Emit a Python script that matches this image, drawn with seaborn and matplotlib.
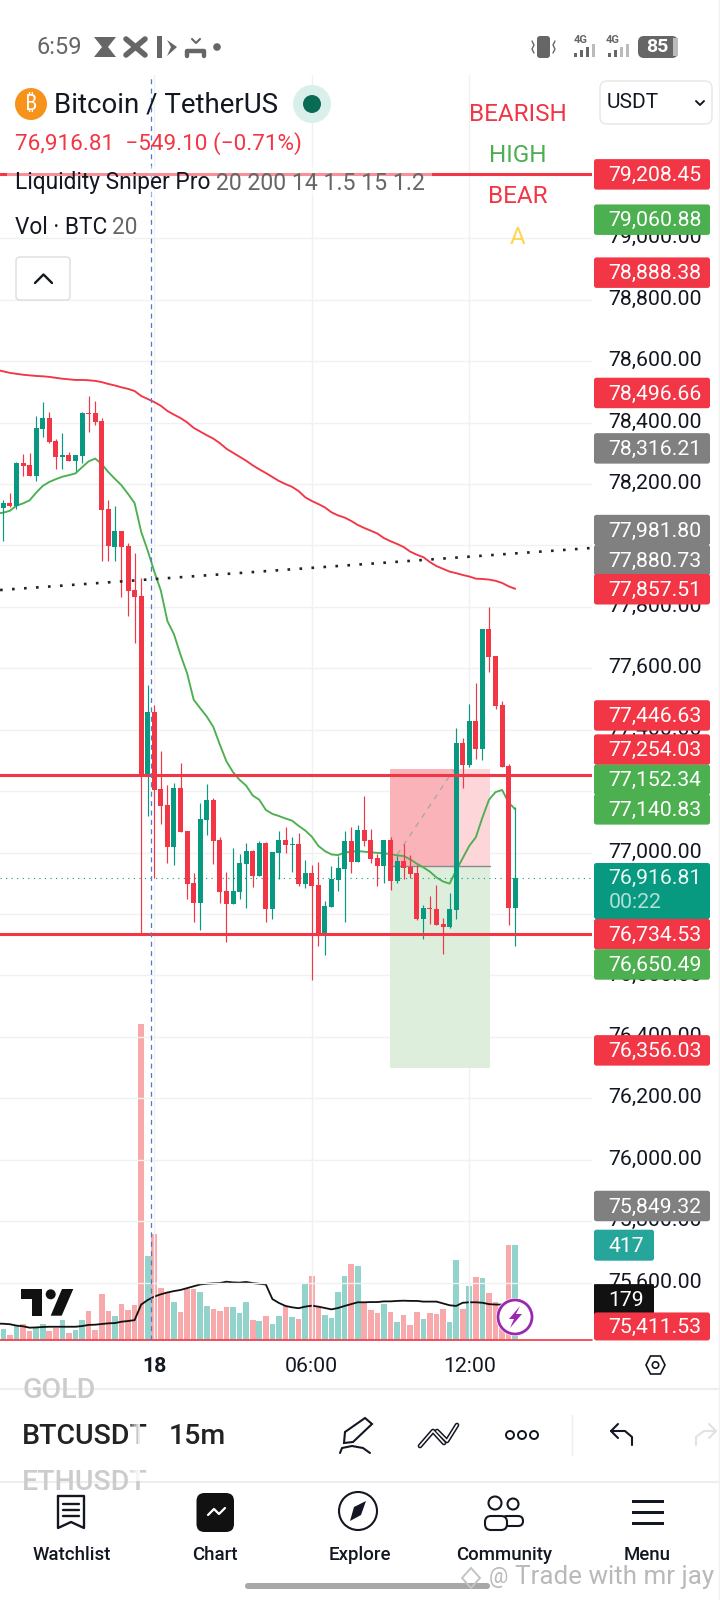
import numpy as np
import pandas as pd
import matplotlib
matplotlib.use("Agg")
import matplotlib.pyplot as plt
import seaborn as sns
from matplotlib.patches import FancyBboxPatch, Circle, Polygon, Rectangle
from matplotlib.transforms import ScaledTranslation

# ==========================
# DATA
# ==========================

opens = [78123, 78138, 78128, 78268, 78262, 78226, 78379, 78415, 78340, 78288,
         78295, 78275, 78291, 78431, 78431, 78405, 78119, 77995, 78047, 77998,
         77855, 77835, 77253, 77458, 77207, 77155, 77019, 77211, 77071, 76901,
         76836, 77107, 77172, 77041, 76875, 76833, 76872, 76963, 77006, 76924,
         77032, 76817, 76999, 77041, 77025, 77028, 76898, 76934, 76895, 76732,
         76824, 76912, 76947, 77038, 76970, 77074, 77041, 76983, 76957, 77041,
         76908, 76973, 76954, 76934, 76784, 76820, 76817, 76768, 76758, 76814,
         77357, 77286, 77429, 77338, 77728, 77641, 77481, 77282, 76820]
closes = [78138, 78128, 78268, 78259, 78226, 78382, 78415, 78337, 78288, 78295,
          78275, 78295, 78431, 78428, 78402, 78115, 77998, 78047, 77995, 77852,
          77832, 77253, 77458, 77204, 77152, 77019, 77211, 77067, 76898, 76836,
          77110, 77172, 77038, 76872, 76833, 76875, 76967, 77006, 76924, 77032,
          76817, 77002, 77041, 77025, 77028, 76898, 76934, 76892, 76732, 76827,
          76915, 76951, 77038, 76970, 77074, 77038, 76980, 76957, 77041, 76908,
          76973, 76950, 76931, 76784, 76820, 76817, 76765, 76758, 76817, 77357,
          77286, 77429, 77338, 77728, 77637, 77478, 77279, 76820, 76918]
highs = [78148, 78171, 78272, 78298, 78301, 78422, 78467, 78435, 78347, 78366,
         78304, 78295, 78435, 78487, 78470, 78415, 78148, 78128, 78047, 78008,
         77975, 77894, 77546, 77481, 77331, 77220, 77227, 77292, 77071, 76934,
         77162, 77224, 77178, 77051, 76937, 77015, 76996, 77032, 77009, 77038,
         77035, 77002, 77071, 77084, 77051, 77064, 76976, 76960, 76970, 76843,
         76957, 76990, 77071, 77084, 77090, 77185, 77077, 76996, 77041, 77051,
         76989, 77028, 76993, 76960, 76830, 76859, 76895, 76787, 76869, 77406,
         77374, 77484, 77553, 77728, 77800, 77641, 77494, 77289, 77149]
lows = [78015, 78125, 78119, 78226, 78226, 78210, 78353, 78334, 78249, 78249,
        78275, 78243, 78268, 78369, 78392, 77949, 77949, 77949, 77832, 77770,
        77684, 76737, 77120, 76918, 77094, 76967, 76960, 77067, 76849, 76774,
        76748, 77058, 76963, 76836, 76709, 76833, 76849, 76820, 76888, 76924,
        76774, 76784, 76915, 76999, 76937, 76892, 76885, 76586, 76696, 76667,
        76824, 76875, 76774, 76934, 76970, 77022, 76967, 76892, 76901, 76879,
        76901, 76915, 76918, 76781, 76719, 76768, 76765, 76670, 76755, 76784,
        77211, 77279, 77305, 77302, 77588, 77468, 77279, 76765, 76696]
# the three line series start one bar further left, off the edge of the pane
ema_slow = [78572, 78567, 78562, 78559, 78556, 78554, 78552, 78551, 78549, 78546,
            78543, 78541, 78539, 78539, 78538, 78536, 78532, 78526, 78521, 78515,
            78510, 78503, 78487, 78477, 78467, 78455, 78438, 78426, 78415, 78401,
            78383, 78371, 78359, 78348, 78333, 78315, 78302, 78289, 78276, 78261,
            78248, 78236, 78223, 78210, 78200, 78191, 78177, 78157, 78145, 78135,
            78124, 78108, 78098, 78091, 78080, 78067, 78057, 78048, 78039, 78024,
            78014, 78005, 77995, 77980, 77970, 77962, 77946, 77933, 77924, 77915,
            77910, 77904, 77899, 77892, 77891, 77889, 77885, 77878, 77867, 77859]
ema_fast = [78104, 78107, 78113, 78130, 78137, 78147, 78172, 78194, 78207, 78216,
            78224, 78229, 78235, 78255, 78274, 78283, 78265, 78239, 78217, 78196,
            78168, 78138, 78045, 77983, 77915, 77853, 77754, 77711, 77644, 77584,
            77498, 77470, 77443, 77409, 77351, 77297, 77262, 77237, 77218, 77186,
            77172, 77139, 77126, 77119, 77111, 77104, 77087, 77072, 77052, 77022,
            77005, 76994, 76992, 77000, 77003, 77005, 77003, 77001, 76999, 76998,
            76995, 76991, 76989, 76978, 76964, 76952, 76938, 76919, 76906, 76899,
            76942, 76982, 77022, 77050, 77114, 77172, 77197, 77204, 77163, 77141]
volume = [50, 23, 63, 70, 41, 54, 70, 41, 54, 89, 32, 45, 89, 128, 45, 203, 128,
          106, 159, 133, 155, 1382, 369, 465, 229, 207, 168, 124, 225, 225, 211,
          150, 137, 128, 146, 146, 120, 168, 89, 85, 106, 71, 106, 150, 102, 93,
          251, 281, 146, 111, 98, 211, 281, 334, 325, 163, 133, 120, 159, 124, 80,
          111, 67, 124, 93, 120, 115, 137, 80, 351, 137, 238, 277, 273, 207, 168,
          150, 417, 417]
volume_ma = [72, 71, 69, 63, 60, 54, 55, 57, 58, 58, 58, 58, 58, 61, 66, 67, 70, 73,
             74, 80, 83, 87, 155, 175, 190, 200, 208, 214, 219, 227, 235, 243, 246,
             248, 249, 255, 252, 251, 254, 249, 246, 243, 179, 162, 149, 143, 139,
             146, 150, 146, 140, 134, 140, 149, 157, 165, 165, 166, 166, 169, 169,
             171, 172, 171, 171, 168, 168, 168, 160, 152, 149, 163, 165, 165, 163,
             157, 155, 155]

bars = np.arange(-23, 56)
line_bars = np.arange(-24, 56)
price_ticks = np.arange(75600, 79001, 200)
time_ticks = [0, 24, 48]
time_labels = ["18", "06:00", "12:00"]

level_prices = [79208.45, 77254.03, 76734.53]
trend_x = [-23.5, 66.7]
trend_y = [77855, 77992]
last_price = 76916.81
session_x = -0.46

box_left = 35.9
box_split = 46
box_right = 51.1
box_top = 77273
box_mid = 76956
box_bottom = 76299
entry_x = [37, 45.6]
entry_y = [76993, 77269]

label_text = ["79,208.45", "79,060.88", "78,888.38", "78,496.66", "78,316.21",
              "77,981.80", "77,880.73", "77,857.51", "77,446.63", "77,254.03",
              "77,152.34", "77,140.83", "76,734.53", "76,650.49", "76,356.03",
              "75,849.32", "75,411.53"]
label_price = [79208.45, 79060.88, 78888.38, 78496.66, 78316.21,
               77981.80, 77880.73, 77857.51, 77446.63, 77254.03,
               77152.34, 77140.83, 76734.53, 76650.49, 76356.03,
               75849.32, 75411.53]
label_color = ["#F23645", "#4CAF50", "#F23645", "#F23645", "#808080",
               "#808080", "#808080", "#F23645", "#F23645", "#F23645",
               "#4CAF50", "#4CAF50", "#F23645", "#4CAF50", "#F23645",
               "#808080", "#F23645"]
# labels the app pushed away from their price so they do not overlap (pixels)
label_shift = {"77,981.80": -21, "77,880.73": -22, "77,254.03": -25,
               "77,152.34": -26, "76,650.49": 4.5, "75,411.53": -14}

tags = ["BEARISH", "HIGH", "BEAR", "A"]
tag_colors = ["#F23645", "#4CAF50", "#F23645", "#FFD54F"]
nav_names = ["Watchlist", "Chart", "Explore", "Community", "Menu"]

RED = "#F23645"
TEAL = "#089981"
TEXT = "#131722"
SCALE_FONT = 15.3

# ==========================
# FIGURE
# ==========================

sns.set_theme(style="white")
plt.rcParams["font.family"] = ["Roboto", "DejaVu Sans"]

fig = plt.figure(figsize=(7.2, 16), dpi=100, facecolor="white")

axv = fig.add_axes([0, 260 / 1600, 592 / 720, 1265 / 1600], zorder=1)
ax = fig.add_axes([0, 260 / 1600, 592 / 720, 1265 / 1600], zorder=2)
ax.patch.set_alpha(0)

# ==========================
# VOLUME
# ==========================

direction = ["up" if c >= o else "down" for o, c in zip(opens, closes)]
vol_df = pd.DataFrame({"bar": bars, "volume": volume, "side": direction})

sns.barplot(
    data=vol_df,
    x="bar",
    y="volume",
    hue="side",
    palette={"up": "#92D3CC", "down": "#F8A9AB"},
    native_scale=True,
    dodge=False,
    saturation=1,
    linewidth=0,
    legend=False,
    ax=axv
)
for patch in axv.patches:
    center = patch.get_x() + patch.get_width() / 2
    patch.set_width(0.85)
    patch.set_x(center - 0.425)

sns.lineplot(
    x=line_bars[:len(volume_ma)],
    y=volume_ma,
    color="#111111",
    linewidth=1.3,
    ax=axv
)
axv.set_xlim(-23.51, 66.7)
axv.set_ylim(0, 5535)
axv.axis("off")

# ==========================
# PRICE PANE
# ==========================

ax.set_xlim(-23.51, 66.7)
ax.set_ylim(75413, 79532)

ax.fill_between([box_left, box_split], box_mid, box_top, color="#FBB3BA", lw=0, zorder=1)
ax.fill_between([box_split, box_right], box_mid, box_top, color="#FCD6D9", lw=0, zorder=1)
ax.fill_between([box_left, box_right], box_bottom, box_mid, color="#DDEEDD", lw=0, zorder=1)
ax.plot([box_left, box_right], [box_mid, box_mid], color="#8A8A8A", lw=1, zorder=1.5)
ax.plot(entry_x, entry_y, color="#A8A8A8", lw=1, ls=(0, (4, 4)), zorder=1.5)

sns.lineplot(x=line_bars, y=ema_slow, color=RED, linewidth=1.35, ax=ax, zorder=2)
sns.lineplot(x=line_bars, y=ema_fast, color="#4CAF50", linewidth=1.35, ax=ax, zorder=2)

candle_colors = [TEAL if d == "up" else RED for d in direction]
ax.vlines(bars, lows, highs, colors=candle_colors, lw=0.85, zorder=3)
ax.bar(
    bars,
    np.abs(np.array(closes) - np.array(opens)),
    bottom=np.minimum(opens, closes),
    width=0.76,
    color=candle_colors,
    lw=0,
    zorder=3
)

for level in level_prices:
    ax.axhline(level, color=RED, lw=2.2, zorder=4)
ax.axhline(75411.53, color=RED, lw=1.2, zorder=4, clip_on=False)

ax.plot(trend_x, trend_y, color="#222222", lw=1.9, ls=(0, (1, 3.55)), zorder=4)
ax.axhline(last_price, color=TEAL, lw=0.8, ls=(0, (1, 4)), zorder=2.5)
ax.axvline(session_x, color="#4A7DD1", lw=0.9, ls=(0, (4, 3.5)), zorder=5)

ax.set_xticks(time_ticks)
ax.set_xticklabels([])
ax.set_yticks(price_ticks)
ax.set_yticklabels([f"{p:,.2f}" for p in price_ticks], fontsize=SCALE_FONT, color=TEXT, ha="left")
ax.yaxis.tick_right()
ax.tick_params(axis="both", length=0)
ax.tick_params(axis="y", pad=12)
tick_nudge = ScaledTranslation(0, 2.5 / 100, fig.dpi_scale_trans)
for tick_label in ax.get_yticklabels():
    tick_label.set_transform(tick_label.get_transform() + tick_nudge)
ax.grid(True, color="#F1F1F1", lw=1)
ax.set_axisbelow(True)
ax.set_xlabel("")
ax.set_ylabel("")
for side in ax.spines.values():
    side.set_visible(False)

# ==========================
# APP OVERLAY
# ==========================

ui = fig.add_axes([0, 0, 1, 1], zorder=5)
ui.set_xlim(0, 720)
ui.set_ylim(1600, 0)
ui.axis("off")
ui.patch.set_alpha(0)


def price_to_px(price):
    return 1600 - ax.transData.transform((0, price))[1]


def round_box(x, y, w, h, r=3, fc="white", ec="none", lw=1, z=2):
    ui.add_patch(FancyBboxPatch(
        (x + r, y + r), w - 2 * r, h - 2 * r,
        boxstyle=f"round,pad={r},rounding_size={r}",
        fc=fc, ec=ec, lw=lw, zorder=z
    ))


def stroke(xs, ys, color="#131722", lw=1.6, z=4):
    ui.plot(xs, ys, color=color, lw=lw, zorder=z, solid_capstyle="round", solid_joinstyle="round")


def fill(points, color, z=4):
    ui.add_patch(Polygon(points, closed=True, fc=color, ec="none", zorder=z))


# status bar
ui.text(37, 47, "6:59", fontsize=17, color="#666666", va="center")
fill([(94, 37), (116, 37), (108, 47), (116, 57), (94, 57), (102, 47)], "#666666")
stroke([126, 145], [39, 55], "#666666", 4)
stroke([126, 145], [55, 39], "#666666", 4)
fill([(157, 36), (162, 36), (162, 58), (157, 58)], "#666666")
fill([(167, 40), (177, 47), (167, 56), (171, 47)], "#666666")
stroke([187, 187, 204, 204], [56, 51, 51, 56], "#666666", 3.2)
stroke([192, 196, 200], [39, 43, 39], "#666666", 1.5)
ui.add_patch(Circle((217, 47), 3.8, fc="#666666", ec="none"))
round_box(537, 36, 13, 22, r=3, fc="#666666")
stroke([532, 534, 532, 534], [41, 45, 49, 53], "#666666", 1)
stroke([555, 553, 555, 553], [41, 45, 49, 53], "#666666", 1)
ui.text(581, 40, "4G", fontsize=8, color="#666666", ha="center", va="center", weight="bold")
ui.text(613, 40, "4G", fontsize=8, color="#666666", ha="center", va="center", weight="bold")
for bar_x, bar_h, shade in zip([574, 580, 586, 592], [4, 7, 10, 13], ["#666666"] * 3 + ["#BBBBBB"]):
    ui.add_patch(Rectangle((bar_x, 57 - bar_h), 3, bar_h, fc=shade, ec="none"))
for bar_x, bar_h, shade in zip([608, 614, 620, 626], [4, 7, 10, 13], ["#666666"] * 2 + ["#BBBBBB"] * 2):
    ui.add_patch(Rectangle((bar_x, 57 - bar_h), 3, bar_h, fc=shade, ec="none"))
round_box(638, 36, 40, 22, r=6, fc="#666666")
ui.add_patch(Rectangle((673, 38), 5, 18, fc="#BBBBBB", ec="none", zorder=3))
ui.text(657, 47.5, "85", fontsize=14, color="white", ha="center", va="center", weight="bold", zorder=4)

# symbol header
ui.add_patch(Circle((31, 104), 16, fc="#F7931A", ec="none"))
ui.text(31, 104, "₿", fontsize=15, color="white", ha="center", va="center", weight="bold",
        family=["Noto Sans", "Open Sans", "Inter", "Lato", "DejaVu Sans"])
ui.text(54, 105, "Bitcoin / TetherUS", fontsize=19.9, color=TEXT, va="center")
ui.add_patch(Circle((312, 104), 19, fc="#D9EFEA", ec="none"))
ui.add_patch(Circle((312, 104), 9, fc="#0A6B55", ec="none"))
ui.text(15, 144, "76,916.81  −549.10 (−0.71%)", fontsize=16.2, color=RED, va="center")

# legend area sits on a translucent white backing
ui.add_patch(Rectangle((7, 166), 425, 30, fc="white", ec="none", alpha=0.45, zorder=1))
ui.text(15, 183, "Liquidity Sniper Pro", fontsize=16.4, color=TEXT, va="center")
ui.text(216, 183, "20 200 14 1.5 15 1.2", fontsize=16.6, color="#666666", va="center")
ui.text(15, 228, "Vol · BTC", fontsize=16.3, color=TEXT, va="center")
ui.text(112, 228, "20", fontsize=16.3, color="#666666", va="center")
round_box(16, 257, 54, 43, r=4, fc="white", ec="#DDDDDD", lw=1)
stroke([35, 43.5, 52], [283, 274.5, 283], TEXT, 1.7)

for tag, tag_color, tag_y in zip(tags, tag_colors, [114.5, 155, 196.5, 238]):
    ui.text(518, tag_y, tag, fontsize=17.5, color=tag_color, ha="center", va="center")

round_box(600, 81, 112, 43, r=7, fc="white", ec="#E6E6E6", lw=1)
ui.text(607, 103, "USDT", fontsize=15, color=TEXT, va="center")
stroke([696, 700, 704], [101, 105, 101], TEXT, 1.4)

# price scale labels
for text, price, color in zip(label_text, label_price, label_color):
    center = price_to_px(price) + label_shift.get(text, 0)
    height = 28 if text == "75,411.53" else 30.5
    round_box(594, center - height / 2, 116, height, r=2.5, fc=color, z=3)
    ui.text(608.5, center + 1, text, fontsize=SCALE_FONT, color="white", va="center", zorder=4)

round_box(594, 863, 116, 56, r=2.5, fc=TEAL, z=2.5)
ui.text(608.5, 878, "76,916.81", fontsize=SCALE_FONT, color="#EAF7F4", va="center", zorder=4)
ui.text(608.5, 903, "00:22", fontsize=SCALE_FONT, color="#B2E0D8", va="center", zorder=4)

vol_top = 1340 - 417 * 1265 / 5535
round_box(594, vol_top - 15, 60, 31, r=2.5, fc="#26A69A", z=3)
ui.text(608.5, vol_top + 1.5, "417", fontsize=SCALE_FONT, color="white", va="center", zorder=4)
vol_ma_px = 1340 - 179 * 1265 / 5535
round_box(594, vol_ma_px - 15, 60, 31, r=1, fc="#111111", z=2.8)
ui.text(608.5, vol_ma_px + 1.5, "179", fontsize=SCALE_FONT, color="white", va="center", zorder=4)

# tradingview mark and lightning button
fill([(21, 1289), (42.3, 1289), (42.3, 1315.7), (32.3, 1315.7), (32.3, 1299.3), (21, 1299.3)], "#111111")
ui.add_patch(Circle((50.7, 1294.3), 5, fc="#111111", ec="none", zorder=4))
fill([(62, 1289), (73.3, 1289), (61.7, 1315.7), (50.7, 1315.7)], "#111111")
ui.add_patch(Circle((515, 1317), 19, fc="white", ec="none", zorder=4))
ui.add_patch(Circle((515, 1317), 17, fc="white", ec="#9C27B0", lw=2, zorder=4))
fill([(520, 1306), (509, 1319), (514, 1319), (510, 1328), (522, 1314), (516, 1314)], "#9C27B0", z=5)

# time axis
for tick, label in zip(time_ticks, time_labels):
    tick_x = ax.transData.transform((tick, 0))[0]
    ui.text(tick_x, 1366, label, fontsize=SCALE_FONT, color=TEXT, ha="center", va="center",
            weight="bold" if label == "18" else "normal")
ui.add_patch(Polygon([(646, 1365), (650.5, 1356), (660.5, 1356), (665, 1365), (660.5, 1374), (650.5, 1374)],
                     closed=True, fc="white", ec=TEXT, lw=1.2))
ui.add_patch(Circle((655.5, 1365), 3.2, fc="white", ec=TEXT, lw=1.2))
ui.plot([0, 720], [1389, 1389], color="#EEEEEE", lw=1.5)
ui.plot([0, 720], [1482, 1482], color="#EEEEEE", lw=1.5)

# symbol picker strip
strip_clip = Rectangle((0, 1389), 140, 93, transform=ui.transData)
for strip_label, strip_y, strip_color in [("GOLD", 1391, "#CCCCCC"), ("BTCUSDT", 1436, "#222222"),
                                          ("ETHUSDT", 1482, "#CCCCCC")]:
    strip = ui.text(22, strip_y, strip_label, fontsize=20.5, color=strip_color, va="center", weight=500)
    strip.set_clip_path(strip_clip)
for step in range(6):
    ui.add_patch(Rectangle((128 + 2 * step, 1390), 2, 91, fc="white", ec="none",
                           alpha=0.15 + 0.15 * step, zorder=5))
ui.text(169, 1436, "15m", fontsize=20.5, color="#222222", va="center", weight=500)

# drawing tools
ui.add_patch(Polygon([(344, 1443), (345, 1432), (365, 1418), (372, 1424), (353, 1442)],
                     closed=True, fc="white", ec=TEXT, lw=1.5, zorder=4))
stroke([340, 342, 352, 363, 370], [1453, 1448, 1446, 1448, 1453], TEXT, 1.5)
for pts_x, pts_y in [([420, 433, 444], [1446, 1431, 1443]), ([437, 447, 457], [1431, 1441, 1425])]:
    stroke(pts_x, pts_y, TEXT, 3.4)
    stroke(pts_x, pts_y, "white", 1.2, z=5)
for dot_x in [510, 522, 534]:
    ui.add_patch(Circle((dot_x, 1435), 4, fc="white", ec=TEXT, lw=1.4, zorder=4))
ui.plot([571.6, 571.6], [1415, 1455], color="#EEEEEE", lw=1)
stroke([618, 611, 618], [1424, 1431, 1438], TEXT, 1.5)
stroke([611, 625, 632, 632], [1431, 1431, 1437, 1445], TEXT, 1.5)
stroke([696, 696, 704, 716], [1445, 1437, 1431, 1431], "#E2E2E2", 1.5)
stroke([709, 716, 709], [1424, 1431, 1438], "#E2E2E2", 1.5)

# bottom navigation
nav_x = [72, 215, 359.5, 503.7, 647.4]
for nav_name, x in zip(nav_names, nav_x):
    ui.text(x, 1555, nav_name, fontsize=13.4, color=TEXT, ha="center", va="center", weight=500)

stroke([58, 84, 84, 71, 58, 58], [1496, 1496, 1528, 1522, 1528, 1496], TEXT, 1.7)
for row_y in [1504, 1510, 1516]:
    stroke([63, 79], [row_y, row_y], TEXT, 1.7)
round_box(196.5, 1493, 37.5, 39, r=8, fc="#111111", z=4)
stroke([208, 214, 219, 225], [1515, 1509, 1514, 1508], "white", 1.6, z=5)
ui.add_patch(Circle((358, 1511), 19, fc="white", ec=TEXT, lw=1.5, zorder=4))
fill([(350, 1521), (354, 1507), (366, 1501), (361, 1515)], TEXT)
ui.add_patch(Circle((495, 1503), 6.5, fc="white", ec=TEXT, lw=1.5, zorder=4))
ui.add_patch(Circle((513, 1504), 5.5, fc="white", ec=TEXT, lw=1.5, zorder=4))
round_box(502, 1516, 21, 10, r=5, fc="white", ec=TEXT, lw=1.5, z=4)
round_box(485, 1516, 22, 14, r=6, fc="white", ec=TEXT, lw=1.5, z=4)
for row_y in [1501, 1512, 1523]:
    ui.add_patch(Rectangle((632, row_y - 1.5), 32, 3.5, fc=TEXT, ec="none", zorder=4))

# watermark and home bar
ui.add_patch(Polygon([(471, 1568), (480, 1578), (471, 1588), (462, 1578)], closed=True,
                     fc="none", ec="#C4C4C4", lw=1.4, zorder=6))
ui.text(498, 1577, "@", fontsize=15.5, color="#B9B9B9", ha="center", va="center", zorder=6)
ui.text(515, 1577, "Trade with mr jay", fontsize=18.7, color="#B9B9B9", va="center", zorder=6)
round_box(245, 1583, 245, 6, r=3, fc="#A8A8A8", z=4)
ui.plot([719, 719], [0, 1600], color="#F1F1F1", lw=1)

fig.savefig("out.png", dpi=100)
